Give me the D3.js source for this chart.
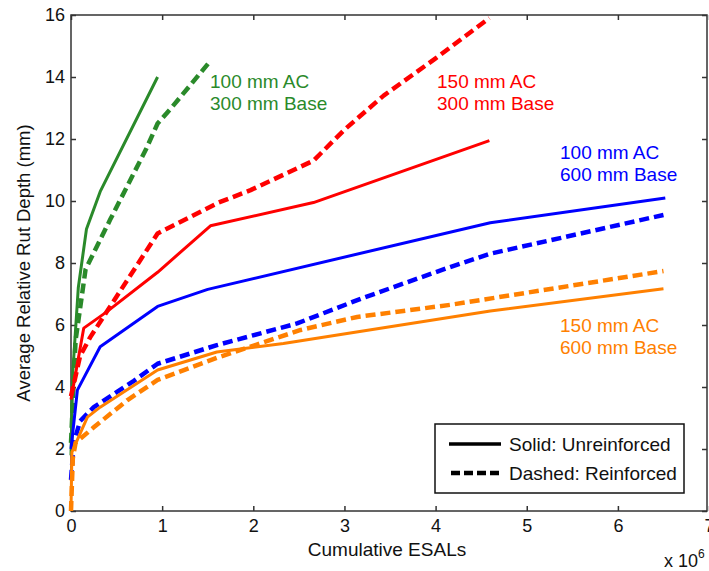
<!DOCTYPE html>
<html>
<head>
<meta charset="utf-8">
<script src="https://cdn.jsdelivr.net/npm/d3@7"></script>
<style>
body { margin: 0; background: #fff; }
text { font-family: "Liberation Sans", Arial, sans-serif; }
</style>
</head>
<body>
<div id="chart-area"></div>
<script>
/*
*    rut depth vs cumulative ESALs
*/

// ESALs in millions, rut depth in mm
var green100x300Solid = [[0, 1.8], [0.02, 4.5], [0.08, 7.2], [0.17, 9.1], [0.32, 10.3], [0.95, 14.0]];
var green100x300Dashed = [[0, 2.2], [0.05, 5.5], [0.16, 7.8], [0.43, 9.4], [0.82, 11.65], [0.95, 12.5], [1.1, 13.0], [1.51, 14.45]];
var red150x300Solid = [[0, 3.6], [0.14, 5.9], [0.38, 6.4], [0.95, 7.7], [1.53, 9.2], [2.66, 9.95], [4.59, 11.95]];
var red150x300Dashed = [[0, 3.7], [0.1, 5.0], [0.21, 5.6], [0.43, 6.6], [0.95, 8.95], [1.62, 9.95], [1.97, 10.35], [2.66, 11.3], [3.0, 12.3], [3.43, 13.4], [4.0, 14.6], [4.59, 15.9]];
var blue100x600Solid = [[0, 2.0], [0.07, 3.9], [0.32, 5.3], [0.95, 6.6], [1.5, 7.15], [4.6, 9.3], [6.52, 10.1]];
var blue100x600Dashed = [[0, 1.0], [0.03, 2.2], [0.1, 2.9], [0.25, 3.35], [0.69, 4.2], [0.95, 4.75], [1.6, 5.35], [2.48, 6.05], [3.2, 6.87], [4.16, 7.87], [4.6, 8.3], [6.5, 9.55]];
var orange150x600Solid = [[0, 0], [0.01, 1.9], [0.18, 3.03], [0.32, 3.35], [0.95, 4.55], [1.6, 5.13], [2.33, 5.4], [4.6, 6.45], [6.5, 7.17]];
var orange150x600Dashed = [[0, 0], [0.02, 1.7], [0.05, 2.2], [0.25, 2.7], [0.62, 3.58], [0.95, 4.23], [1.6, 4.94], [2.52, 5.84], [3.14, 6.26], [4.16, 6.65], [6.5, 7.74]];

var xTicks = [0, 1, 2, 3, 4, 5, 6, 7];
var yTicks = [0, 2, 4, 6, 8, 10, 12, 14, 16];
var groupLabels = [["100 mm AC", "300 mm Base"], ["150 mm AC", "300 mm Base"], ["100 mm AC", "600 mm Base"], ["150 mm AC", "600 mm Base"]];
var legendLabels = ["Solid: Unreinforced", "Dashed: Reinforced"];

var svg = d3.select("#chart-area").append("svg")
	.attr("width", 709)
	.attr("height", 571);

var plotLeft = 71, plotRight = 707, plotTop = 15, plotBottom = 511;

var x = d3.scaleLinear().domain([0, 7]).range([plotLeft, plotLeft + 7 * 91.15]);
var y = d3.scaleLinear().domain([0, 16]).range([plotBottom, plotTop]);

var line = d3.line()
    .x(function(d) { return x(d[0]); })
    .y(function(d) { return y(d[1]); });

var colors = ["#2a8a2a", "#ff0000", "#0000ff", "#ff8000"];

var series = [
    { data: green100x300Solid, color: colors[0], dashed: false },
    { data: green100x300Dashed, color: colors[0], dashed: true },
    { data: red150x300Solid, color: colors[1], dashed: false },
    { data: red150x300Dashed, color: colors[1], dashed: true },
    { data: blue100x600Solid, color: colors[2], dashed: false },
    { data: blue100x600Dashed, color: colors[2], dashed: true },
    { data: orange150x600Solid, color: colors[3], dashed: false },
    { data: orange150x600Dashed, color: colors[3], dashed: true }
];

// frame
svg.append("rect")
    .attr("x", plotLeft)
    .attr("y", plotTop)
    .attr("width", plotRight - plotLeft)
    .attr("height", plotBottom - plotTop)
    .attr("fill", "none")
    .attr("stroke", "#333")
    .attr("stroke-width", 1.5);

// axes, ticks point inward
svg.append("g")
    .attr("transform", "translate(0," + plotBottom + ")")
    .call(d3.axisBottom(x).tickValues(xTicks).tickFormat(d3.format("d")).tickSizeInner(-5).tickSizeOuter(0).tickPadding(8));
svg.append("g")
    .attr("transform", "translate(" + plotLeft + ",0)")
    .call(d3.axisLeft(y).tickValues(yTicks).tickFormat(d3.format("d")).tickSizeInner(-5).tickSizeOuter(0).tickPadding(6));
svg.append("g")
    .attr("transform", "translate(0," + plotTop + ")")
    .call(d3.axisTop(x).tickValues(xTicks).tickFormat("").tickSizeInner(-5).tickSizeOuter(0));
svg.append("g")
    .attr("transform", "translate(" + plotRight + ",0)")
    .call(d3.axisRight(y).tickValues(yTicks).tickFormat("").tickSizeInner(-5).tickSizeOuter(0));

svg.selectAll(".domain").remove();
svg.selectAll(".tick line").attr("stroke", "#333").attr("stroke-width", 1.5);
svg.selectAll(".tick text")
    .attr("font-family", "Liberation Sans, Arial, sans-serif")
    .attr("font-size", 18)
    .attr("fill", "#111");

// lines
svg.selectAll("path.series").data(series).enter().append("path")
    .attr("class", "series")
    .attr("d", function(d) { return line(d.data); })
    .attr("fill", "none")
    .attr("stroke", function(d) { return d.color; })
    .attr("stroke-width", function(d) { return d.dashed ? 4.5 : 3; })
    .attr("stroke-dasharray", function(d) { return d.dashed ? "10,5" : null; })
    .attr("stroke-linejoin", "round");

// group annotations
var labelPos = [[210, 88], [437, 88], [560, 159], [560, 332]];
groupLabels.forEach(function(lab, i) {
    var t = svg.append("text")
        .attr("x", labelPos[i][0])
        .attr("y", labelPos[i][1])
        .attr("font-size", 19)
        .attr("fill", colors[i]);
    t.append("tspan").attr("x", labelPos[i][0]).text(lab[0]);
    t.append("tspan").attr("x", labelPos[i][0]).attr("dy", 21.5).text(lab[1]);
});

// axis titles
svg.append("text")
    .attr("x", 387)
    .attr("y", 556)
    .attr("text-anchor", "middle")
    .attr("font-size", 19)
    .attr("fill", "#111")
    .text("Cumulative ESALs");

svg.append("text")
    .attr("transform", "translate(30,263) rotate(-90)")
    .attr("text-anchor", "middle")
    .attr("font-size", 18.5)
    .attr("fill", "#111")
    .text("Average Relative Rut Depth (mm)");

var mult = svg.append("text")
    .attr("x", 664)
    .attr("y", 567)
    .attr("font-size", 18)
    .attr("fill", "#111");
mult.append("tspan").text("x 10");
mult.append("tspan").attr("dy", -9).attr("font-size", 12).text("6");

// legend
svg.append("rect")
    .attr("x", 435)
    .attr("y", 424)
    .attr("width", 249)
    .attr("height", 69)
    .attr("fill", "#fff")
    .attr("stroke", "#111")
    .attr("stroke-width", 1.5);

legendLabels.forEach(function(lab, i) {
    var ly = 444 + i * 29;
    svg.append("line")
        .attr("x1", i ? 451 : 449)
        .attr("x2", 501)
        .attr("y1", ly)
        .attr("y2", ly)
        .attr("stroke", "#000")
        .attr("stroke-width", i ? 4.5 : 3.5)
        .attr("stroke-dasharray", i ? "9,4" : null);
    svg.append("text")
        .attr("x", 509)
        .attr("y", ly + 7)
        .attr("font-size", 19)
        .attr("fill", "#111")
        .text(lab);
});
</script>
</body>
</html>
